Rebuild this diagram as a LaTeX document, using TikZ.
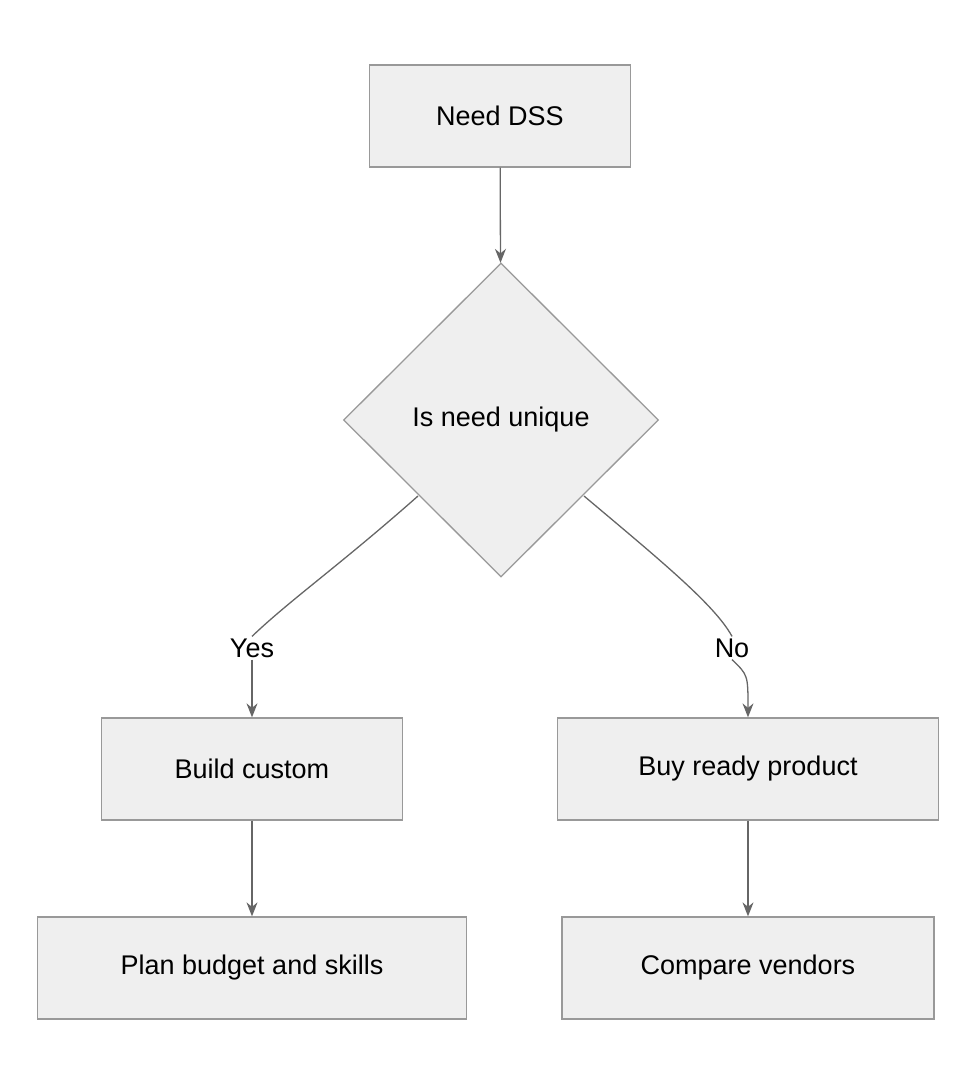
\documentclass[tikz,border=0pt]{standalone}
\usepackage{fontspec}
\setmainfont{Liberation Sans}
\usetikzlibrary{shapes.geometric,arrows.meta}
\definecolor{boxfill}{HTML}{EFEFEF}
\definecolor{boxline}{HTML}{999999}
\definecolor{edgeline}{HTML}{666666}
\begin{document}
\begin{tikzpicture}[x=1pt,y=-1pt,
  box/.style={draw=boxline, fill=boxfill, line width=1.3pt, minimum height=102pt, font=\fontsize{27}{32}\selectfont},
  decision/.style={diamond, draw=boxline, fill=boxfill, line width=1.3pt, minimum width=315pt, minimum height=314pt, inner sep=0pt, font=\fontsize{27}{32}\selectfont},
  lbl/.style={font=\fontsize{27}{32}\selectfont, inner sep=2pt},
  edge/.style={draw=edgeline, line width=1.3pt, -{Stealth[length=14pt,width=11pt]}}]
\useasboundingbox (0,0) rectangle (976,1084);
% Nodes
\node[box, minimum width=261pt] (need) at (500,116) {Need DSS};
\node[decision] (unique) at (501,420) {Is need unique};
\node[box, minimum width=301pt] (build) at (252,769) {Build custom};
\node[box, minimum width=381pt] (buy) at (748,769) {Buy ready product};
\node[box, minimum width=429pt] (plan) at (252,968) {Plan budget and skills};
\node[box, minimum width=372pt] (compare) at (748,968) {Compare vendors};
\node[lbl] (yes) at (252,648) {Yes};
\node[lbl] (no) at (732,648) {No};
% Edges
\draw[edge] (need) -- (unique);
\draw[draw=edgeline, line width=1.3pt] (unique.south west) ++(0,0) coordinate (uw);
\draw[draw=edgeline, line width=1.3pt] (418,496) .. controls (340,565) and (290,600) .. (yes.north);
\draw[edge] (yes.south) .. controls (252,690) .. (build.north);
\draw[draw=edgeline, line width=1.3pt] (584,496) .. controls (660,560) and (715,605) .. (no.north);
\draw[edge] (no.south) .. controls (748,675) .. (buy.north);
\draw[edge] (build) -- (plan);
\draw[edge] (buy) -- (compare);
\end{tikzpicture}
\end{document}
